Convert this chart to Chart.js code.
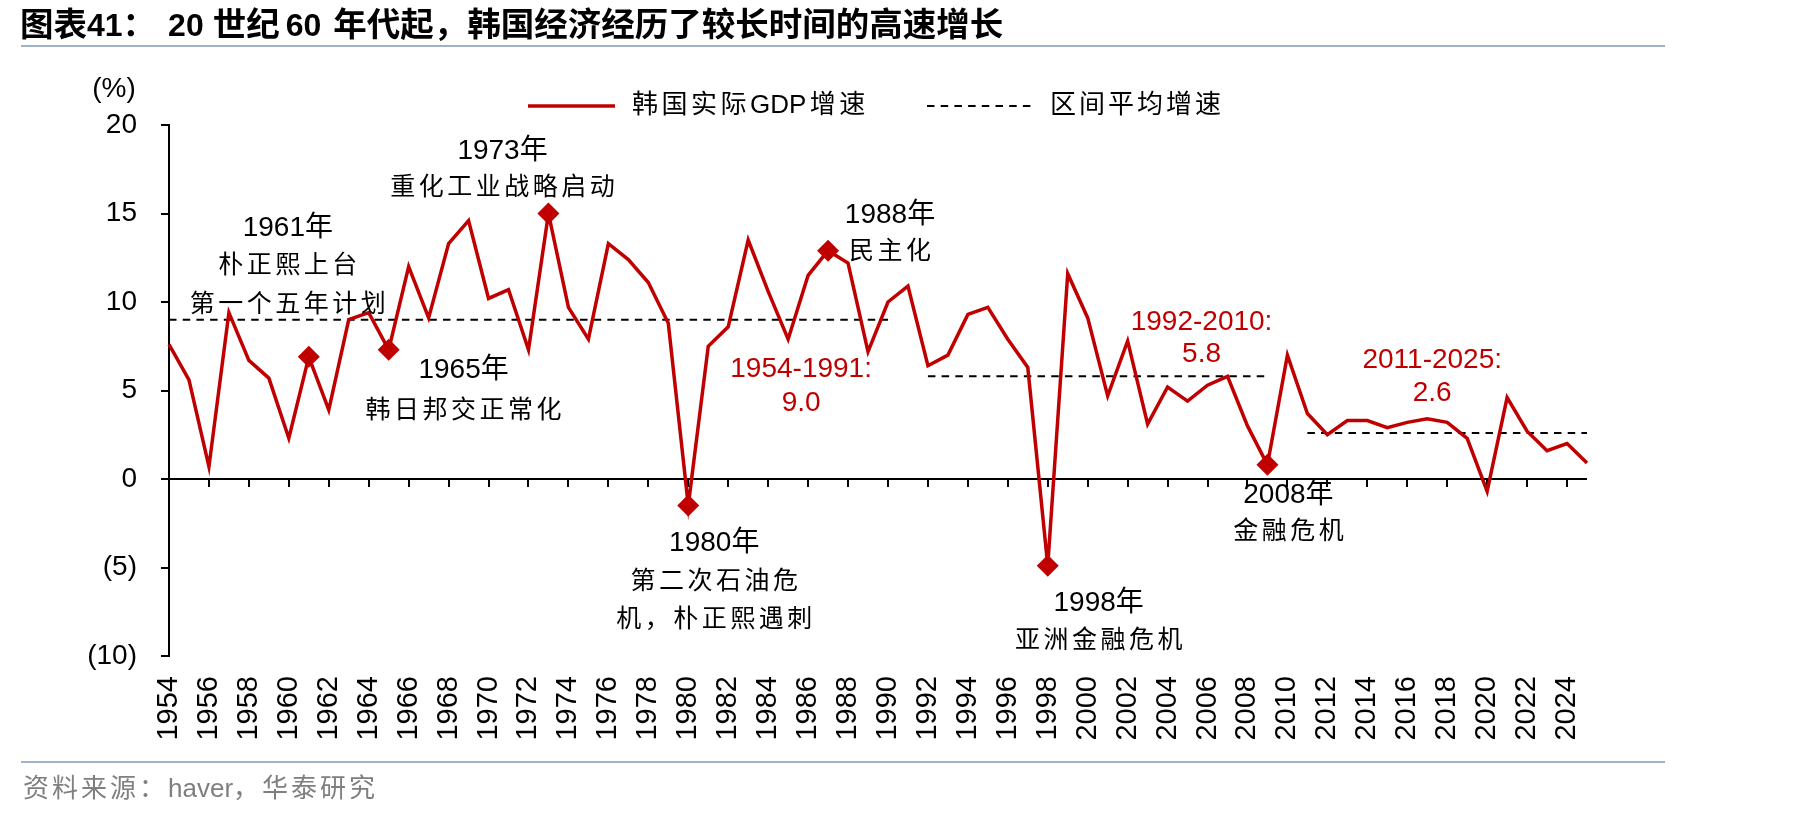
<!DOCTYPE html>
<html>
<head>
<meta charset="utf-8">
<script src="https://cdn.jsdelivr.net/npm/chart.js@4.4.1/dist/chart.umd.min.js"></script>
<style>
html,body{margin:0;padding:0;background:#fff;width:1819px;height:816px;overflow:hidden}
#wrap{position:relative;width:1819px;height:816px}
#c{position:absolute;left:0;top:0}
#title{position:absolute;left:20px;top:5px;line-height:34px;white-space:nowrap;color:#000}
#title .c{font-family:"Noto Sans CJK SC";font-weight:700;font-size:33.5px}
#title .d{font-family:"Liberation Sans";font-weight:700;font-size:32px}
.rule{position:absolute;left:21px;width:1644px;height:2px;background:#9fb2ca}
#src{position:absolute;left:23px;top:775px;line-height:26px;font-size:26px;color:#7f7f7f;font-family:"Liberation Sans","Noto Sans CJK SC";white-space:nowrap}
#src .w{letter-spacing:3px}
</style>
</head>
<body>
<div id="wrap">
<canvas id="c" width="1819" height="816"></canvas>
<div id="title"><span class="c">图表</span><span class="d">41</span><span class="c">：</span><span class="d" style="margin-left:12px">20</span><span class="c" style="margin-left:9px">世纪</span><span class="d" style="margin-left:6px">60</span><span class="c" style="margin-left:12px">年代起，韩国经济经历了较长时间的高速增长</span></div>
<div class="rule" style="top:45px"></div>
<div class="rule" style="top:761px"></div>
<div id="src"><span class="w">资料来源：</span>haver<span class="w">，华泰研究</span></div>
</div>
<script>
// ---- data ----
const years = ['1954','1955','1956','1957','1958','1959','1960','1961','1962','1963','1964','1965','1966','1967','1968','1969','1970','1971','1972','1973','1974','1975','1976','1977','1978','1979','1980','1981','1982','1983','1984','1985','1986','1987','1988','1989','1990','1991','1992','1993','1994','1995','1996','1997','1998','1999','2000','2001','2002','2003','2004','2005','2006','2007','2008','2009','2010','2011','2012','2013','2014','2015','2016','2017','2018','2019','2020','2021','2022','2023','2024','2025'];
const gdpGrowth = [7.6,5.6,0.7,9.4,6.7,5.7,2.3,6.9,3.9,9.0,9.4,7.3,12.0,9.1,13.3,14.6,10.2,10.7,7.3,15.0,9.7,7.9,13.3,12.4,11.1,8.8,-1.5,7.5,8.6,13.5,10.6,7.9,11.5,12.9,12.2,7.2,10.0,10.9,6.4,7.0,9.3,9.7,7.9,6.3,-4.9,11.6,9.1,4.7,7.8,3.1,5.2,4.4,5.3,5.8,3.0,0.8,7.0,3.7,2.5,3.3,3.3,2.9,3.2,3.4,3.2,2.3,-0.7,4.6,2.7,1.6,2.0,0.9];
const periodAvg = [9.0,9.0,9.0,9.0,9.0,9.0,9.0,9.0,9.0,9.0,9.0,9.0,9.0,9.0,9.0,9.0,9.0,9.0,9.0,9.0,9.0,9.0,9.0,9.0,9.0,9.0,9.0,9.0,9.0,9.0,9.0,9.0,9.0,9.0,9.0,9.0,9.0,null,5.8,5.8,5.8,5.8,5.8,5.8,5.8,5.8,5.8,5.8,5.8,5.8,5.8,5.8,5.8,5.8,5.8,5.8,null,2.6,2.6,2.6,2.6,2.6,2.6,2.6,2.6,2.6,2.6,2.6,2.6,2.6,2.6,2.6];
const markerYears = ['1961','1965','1973','1980','1987','1998','2009'];
const yTicks = [-10,-5,0,5,10,15,20];
const seriesNames = ['韩国实际GDP增速','区间平均增速'];
// annotation texts anchored on (year, value)
const notes = [
  {t:'1973年', yr:1970.7, v:18.53, k:'num'},
  {t:'重化工业战略启动', yr:1970.7, v:16.56, k:'cjk'},
  {t:'1961年', yr:1959.95, v:14.14, k:'num'},
  {t:'朴正熙上台', yr:1959.95, v:12.17, k:'cjk'},
  {t:'第一个五年计划', yr:1959.95, v:9.97, k:'cjk'},
  {t:'1965年', yr:1968.75, v:6.12, k:'num'},
  {t:'韩日邦交正常化', yr:1968.75, v:3.99, k:'cjk'},
  {t:'1988年', yr:1990.1, v:14.92, k:'num'},
  {t:'民主化', yr:1990.1, v:12.98, k:'cjk'},
  {t:'1954-1991:', yr:1985.65, v:6.18, k:'red'},
  {t:'9.0', yr:1985.65, v:4.28, k:'red'},
  {t:'1992-2010:', yr:2005.7, v:8.88, k:'red'},
  {t:'5.8', yr:2005.7, v:7.02, k:'red'},
  {t:'2011-2025:', yr:2017.25, v:6.7, k:'red'},
  {t:'2.6', yr:2017.25, v:4.87, k:'red'},
  {t:'1980年', yr:1981.3, v:-3.63, k:'num'},
  {t:'第二次石油危', yr:1981.3, v:-5.66, k:'cjk'},
  {t:'机，朴正熙遇刺', yr:1981.3, v:-7.82, k:'cjk'},
  {t:'1998年', yr:2000.55, v:-7.02, k:'num'},
  {t:'亚洲金融危机', yr:2000.55, v:-9.01, k:'cjk'},
  {t:'2008年', yr:2010.05, v:-0.93, k:'num'},
  {t:'金融危机', yr:2010.05, v:-2.85, k:'cjk'}
];

const RED = '#c00000';
const LATIN = '"Liberation Sans", "Noto Sans CJK SC"';
const CJK = '"Noto Sans CJK SC"';

function isWide(ch) { return ch.charCodeAt(0) > 0x2e80; }
function drawSpaced(ctx, text, x0, cy, spacing, align) {
  const chars = Array.from(text);
  const w = chars.map(ch => ctx.measureText(ch).width);
  const gaps = chars.map((ch, i) => (i < chars.length - 1 && (isWide(ch) || isWide(chars[i + 1])) ? spacing : 0));
  const total = w.reduce((a, b) => a + b, 0) + gaps.reduce((a, b) => a + b, 0);
  let x = align === 'left' ? x0 : x0 - total / 2;
  ctx.textAlign = 'left';
  chars.forEach((ch, i) => { ctx.fillText(ch, x, cy); x += w[i] + gaps[i]; });
}

const decor = {
  id: 'decor',
  beforeDatasetsDraw(chart) {
    const ctx = chart.ctx, xs = chart.scales.x, ys = chart.scales.y;
    const y0 = ys.getPixelForValue(0);
    ctx.save();
    ctx.strokeStyle = '#000';
    ctx.lineWidth = 2;
    ctx.beginPath();
    ctx.moveTo(xs.left, y0); ctx.lineTo(xs.right, y0);
    for (let i = 0; i < years.length; i += 2) {
      const px = Math.round(xs.getPixelForValue(i));
      ctx.moveTo(px, y0); ctx.lineTo(px, y0 + 8);
    }
    ctx.stroke();
    ctx.restore();
  },
  afterDraw(chart) {
    const ctx = chart.ctx, xs = chart.scales.x, ys = chart.scales.y;
    ctx.save();
    ctx.textBaseline = 'middle';
    // unit
    ctx.fillStyle = '#000';
    ctx.font = '28px ' + LATIN;
    ctx.textAlign = 'center';
    ctx.fillText('(%)', 114, 89);
    // legend
    ctx.strokeStyle = RED; ctx.lineWidth = 3.5;
    ctx.beginPath(); ctx.moveTo(528, 106); ctx.lineTo(615, 106); ctx.stroke();
    ctx.strokeStyle = '#000'; ctx.lineWidth = 2; ctx.setLineDash([7.5, 6.2]);
    ctx.beginPath(); ctx.moveTo(927, 106); ctx.lineTo(1033, 106); ctx.stroke();
    ctx.setLineDash([]);
    ctx.font = '26px ' + LATIN;
    drawSpaced(ctx, seriesNames[0], 632, 106, 3.5, 'left');
    drawSpaced(ctx, seriesNames[1], 1050, 106, 3, 'left');
    // annotations
    notes.forEach(n => {
      const px = xs.getPixelForValue(n.yr - 1954);
      const py = ys.getPixelForValue(n.v);
      if (n.k === 'cjk') {
        ctx.fillStyle = '#000';
        ctx.font = '25px ' + CJK;
        drawSpaced(ctx, n.t, px, py, 3.5, 'center');
      } else {
        ctx.fillStyle = n.k === 'red' ? RED : '#000';
        ctx.font = '28px ' + LATIN;
        ctx.textAlign = 'center';
        ctx.fillText(n.t, px, py);
      }
    });
    ctx.restore();
  }
};

new Chart(document.getElementById('c'), {
  type: 'line',
  data: {
    labels: years,
    datasets: [
      {
        label: seriesNames[0],
        data: gdpGrowth,
        borderColor: RED,
        backgroundColor: RED,
        borderWidth: 3.5,
        tension: 0,
        order: 1,
        clip: false,
        pointStyle: 'rectRot',
        pointRadius: c => markerYears.includes(years[c.dataIndex]) ? 11 : 0,
        pointBackgroundColor: RED,
        pointBorderColor: RED,
        pointBorderWidth: 0,
        pointHoverRadius: 0
      },
      {
        label: seriesNames[1],
        data: periodAvg,
        borderColor: '#000',
        borderWidth: 2,
        borderDash: [7.5, 6.2],
        pointRadius: 0,
        pointHoverRadius: 0,
        spanGaps: false,
        tension: 0,
        order: 2
      }
    ]
  },
  options: {
    responsive: false,
    animation: false,
    events: [],
    layout: { padding: { left: 0, top: 125, right: 232, bottom: 0 } },
    plugins: { legend: { display: false }, tooltip: { enabled: false }, title: { display: false } },
    scales: {
      x: {
        type: 'category',
        position: 'bottom',
        offset: false,
        grid: { display: false, drawTicks: false },
        border: { display: false },
        ticks: {
          autoSkip: false, minRotation: 90, maxRotation: 90, padding: 20,
          color: '#000', font: { family: 'Liberation Sans', size: 29 },
          callback: (v, i) => (i % 2 === 0 ? years[i] : '')
        },
        afterFit: s => { s.height = 160; }
      },
      y: {
        min: -10, max: 20,
        afterBuildTicks: s => { s.ticks = yTicks.map(v => ({ value: v })); },
        grid: { display: true, drawOnChartArea: false, drawTicks: true, tickLength: 8, color: '#000', lineWidth: 2 },
        border: { display: true, color: '#000', width: 2 },
        ticks: {
          padding: 24, color: '#000', font: { family: 'Liberation Sans', size: 28 },
          callback: v => (v < 0 ? '(' + (-v) + ')' : String(v))
        },
        afterFit: s => { s.width = 169; }
      }
    }
  },
  plugins: [decor]
});
</script>
</body>
</html>
